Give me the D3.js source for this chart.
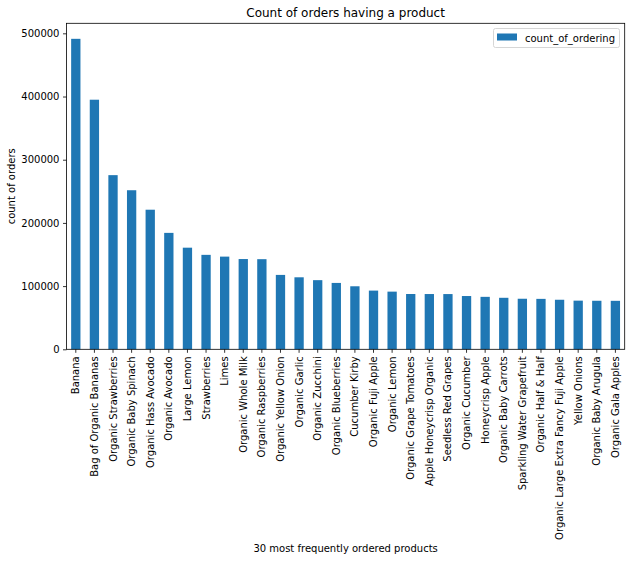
<!DOCTYPE html>
<html>
<head>
<meta charset="utf-8">
<script src="https://cdn.jsdelivr.net/npm/d3@7"></script>
<style>
  body { margin: 0; background: #fff; }
  svg { display: block; font-family: "DejaVu Sans", sans-serif; }
</style>
</head>
<body>
<svg id="chart" width="631" height="561"></svg>
<script>
const products = ["Banana","Bag of Organic Bananas","Organic Strawberries","Organic Baby Spinach","Organic Hass Avocado","Organic Avocado","Large Lemon","Strawberries","Limes","Organic Whole Milk","Organic Raspberries","Organic Yellow Onion","Organic Garlic","Organic Zucchini","Organic Blueberries","Cucumber Kirby","Organic Fuji Apple","Organic Lemon","Organic Grape Tomatoes","Apple Honeycrisp Organic","Seedless Red Grapes","Organic Cucumber","Honeycrisp Apple","Organic Baby Carrots","Sparkling Water Grapefruit","Organic Half & Half","Organic Large Extra Fancy Fuji Apple","Yellow Onions","Organic Baby Arugula","Organic Gala Apples"];
const counts = [491291,394930,275577,251705,220877,184224,160792,149445,146660,142813,142603,117716,113936,109412,105026,99728,92889,91251,87500,87450,87400,84300,83000,81500,80000,79800,78400,77000,76800,76700];
const yTicks = [0,100000,200000,300000,400000,500000];
const seriesName = "count_of_ordering";
const title = "Count of orders having a product";
const xLabel = "30 most frequently ordered products";
const yLabel = "count of orders";

const svg = d3.select("#chart");
const L = 66.5, R = 624.7, T = 23.3, B = 349.3;
const color = "#1f77b4";

const x = d3.scaleBand().domain(products).range([L, R]).paddingInner(0.5).paddingOuter(0.25);
const y = d3.scaleLinear().domain([0, d3.max(counts) * 1.05]).range([B, T]);

svg.append("g").selectAll("rect").data(products).join("rect")
  .attr("x", d => x(d)).attr("width", x.bandwidth())
  .attr("y", (d, i) => y(counts[i])).attr("height", (d, i) => B - y(counts[i]))
  .attr("fill", color);

// Y axis
const ya = svg.append("g").attr("transform", `translate(${L},0)`)
  .call(d3.axisLeft(y).tickValues(yTicks).tickFormat(d3.format("d")).tickSize(3.5).tickPadding(3.5));
ya.select(".domain").remove();
ya.selectAll("text").attr("font-size", 10).attr("fill", "#000").attr("font-family", "DejaVu Sans");
ya.selectAll("line").attr("stroke", "#000").attr("stroke-width", 0.8);

// X axis
const xa = svg.append("g").attr("transform", `translate(0,${B})`)
  .call(d3.axisBottom(x).tickSize(3.5).tickPadding(3.5));
xa.select(".domain").remove();
xa.selectAll("line").attr("stroke", "#000").attr("stroke-width", 0.8);
xa.selectAll("text")
  .attr("font-size", 10).attr("fill", "#000").attr("font-family", "DejaVu Sans")
  .attr("transform", "rotate(-90)")
  .attr("text-anchor", "end")
  .attr("x", -7).attr("y", 0).attr("dy", "0.35em");

// Frame
svg.append("rect").attr("x", L).attr("y", T).attr("width", R - L).attr("height", B - T)
  .attr("fill", "none").attr("stroke", "#000").attr("stroke-width", 0.8);

// Title and labels
svg.append("text").attr("x", (L + R) / 2).attr("y", 17).attr("text-anchor", "middle")
  .attr("font-size", 12).text(title);
svg.append("text").attr("x", (L + R) / 2).attr("y", 552).attr("text-anchor", "middle")
  .attr("font-size", 10).text(xLabel);
svg.append("text").attr("transform", `translate(15,${(T + B) / 2}) rotate(-90)`)
  .attr("text-anchor", "middle").attr("font-size", 10).text(yLabel);

// Legend
const lg = svg.append("g");
lg.append("rect").attr("x", 493.5).attr("y", 28.5).attr("width", 126).attr("height", 19).attr("rx", 2)
  .attr("fill", "#fff").attr("fill-opacity", 0.8).attr("stroke", "#ccc").attr("stroke-width", 0.8);
lg.append("rect").attr("x", 497).attr("y", 33.5).attr("width", 20).attr("height", 7).attr("fill", color);
lg.append("text").attr("x", 525).attr("y", 41.5).attr("font-size", 10).text(seriesName);
</script>
</body>
</html>
